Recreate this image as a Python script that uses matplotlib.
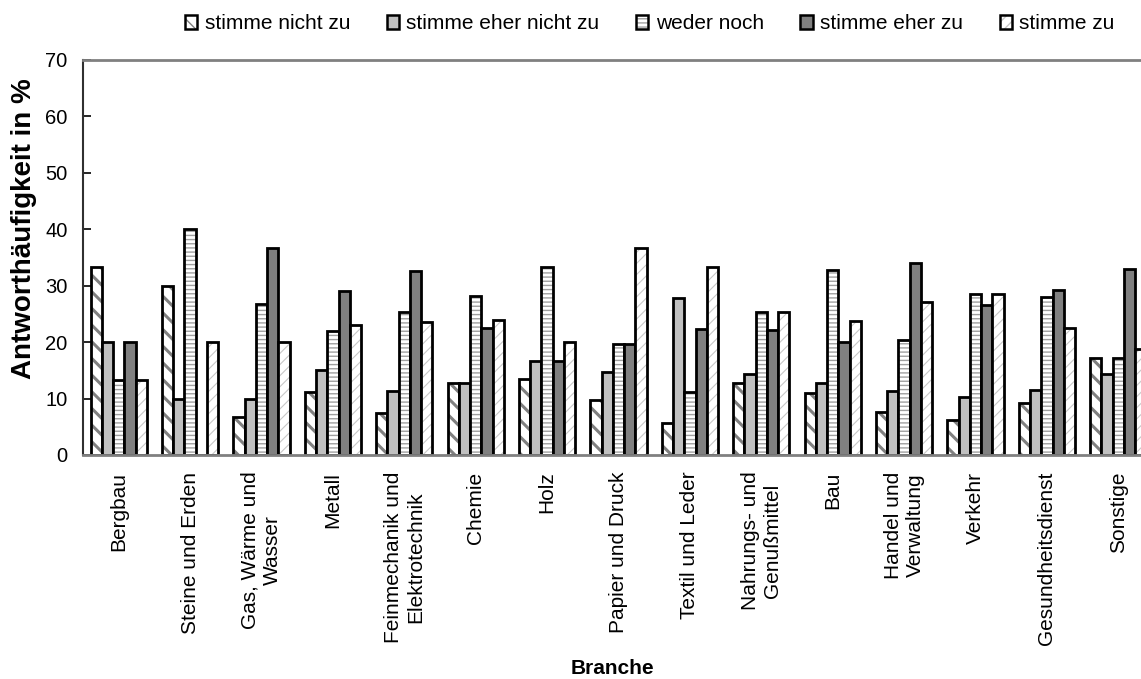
import numpy as np
import matplotlib.pyplot as plt
from matplotlib.patches import Patch
from matplotlib.legend_handler import HandlerTuple

plt.rcParams['font.family'] = ['Liberation Sans', 'DejaVu Sans']

# Data
branchen = ['Bergbau', 'Steine und Erden', 'Gas, Wärme und\nWasser', 'Metall',
            'Feinmechanik und\nElektrotechnik', 'Chemie', 'Holz', 'Papier und Druck',
            'Textil und Leder', 'Nahrungs- und\nGenußmittel', 'Bau', 'Handel und\nVerwaltung',
            'Verkehr', 'Gesundheitsdienst', 'Sonstige']
antworten = ['stimme nicht zu', 'stimme eher nicht zu', 'weder noch', 'stimme eher zu', 'stimme zu']

nicht_zu = [33.3, 30.0, 6.7, 11.1, 7.4, 12.8, 13.4, 9.8, 5.6, 12.8, 11.0, 7.6, 6.2, 9.2, 17.2]
eher_nicht_zu = [20.0, 10.0, 10.0, 15.1, 11.4, 12.8, 16.7, 14.7, 27.8, 14.4, 12.8, 11.4, 10.3, 11.6, 14.3]
weder_noch = [13.3, 40.0, 26.7, 22.0, 25.3, 28.2, 33.3, 19.6, 11.1, 25.4, 32.8, 20.4, 28.6, 28.0, 17.2]
eher_zu = [20.0, 0.0, 36.7, 29.0, 32.6, 22.5, 16.7, 19.6, 22.3, 22.2, 20.0, 34.0, 26.6, 29.2, 33.0]
stimme_zu = [13.3, 20.0, 20.0, 23.1, 23.6, 24.0, 20.0, 36.7, 33.3, 25.4, 23.7, 27.1, 28.6, 22.5, 18.7]

series = [nicht_zu, eher_nicht_zu, weder_noch, eher_zu, stimme_zu]

# Styles: (facecolor, hatch, hatch colour, hatch linewidth)
styles = [
    ('white', '\\\\', '#808080', 2.2),
    ('#c0c0c0', '', '#c0c0c0', 1.0),
    ('white', '----', '#a0a0a0', 1.0),
    ('#808080', '', '#808080', 1.0),
    ('white', '///', '#c8c8c8', 0.8),
]

fig = plt.figure(figsize=(11.41, 6.79), dpi=100)
ax = fig.add_axes([83 / 1141, 1 - 455 / 679, 1071 / 1141, 395 / 679])

x = np.arange(len(branchen))
width = 0.157
handles = []
for j, (vals, (fc, hatch, hc, hlw)) in enumerate(zip(series, styles)):
    pos = x + (j - 2) * width
    with plt.rc_context({'hatch.linewidth': hlw}):
        ax.bar(pos, vals, width, color=fc, hatch=hatch, edgecolor=hc, linewidth=0)
        p1 = Patch(facecolor=fc, hatch=hatch, edgecolor=hc, linewidth=0)
    ax.bar(pos, vals, width, fill=False, edgecolor='black', linewidth=2)
    p2 = Patch(fill=False, edgecolor='black', linewidth=1.8)
    handles.append((p1, p2))

ax.set_xlim(-0.5, len(branchen) - 0.5)
ax.set_ylim(0, 70)
ax.set_yticks(range(0, 71, 10))
ax.set_xticks(x)
ax.set_xticklabels(branchen, rotation=90, fontsize=15)
ax.tick_params(axis='x', length=0, pad=12)
ax.tick_params(axis='y', direction='in', length=6, width=1.2, labelsize=14.5, pad=11)

for side in ['top', 'bottom']:
    ax.spines[side].set_color('#808080')
    ax.spines[side].set_linewidth(2)
ax.spines['left'].set_color('#303030')
ax.spines['left'].set_linewidth(1.5)
ax.spines['right'].set_visible(False)

fig.text(612 / 1141, 1 - 668 / 679, 'Branche', ha='center', va='center',
         fontsize=15, fontweight='bold')
fig.text(24 / 1141, 1 - 229 / 679, 'Antworthäufigkeit in %', ha='center', va='center',
         rotation=90, fontsize=20, fontweight='bold')

fig.legend(handles, antworten, handler_map={tuple: HandlerTuple(ndivide=1, pad=0)},
           loc='upper right', bbox_to_anchor=(1123 / 1141, 1 - 6 / 679), ncol=5,
           frameon=False, fontsize=15, handlelength=0.6, handleheight=0.6,
           handletextpad=0.35, columnspacing=1.75, borderaxespad=0)

fig.savefig('out.png', dpi=100)
